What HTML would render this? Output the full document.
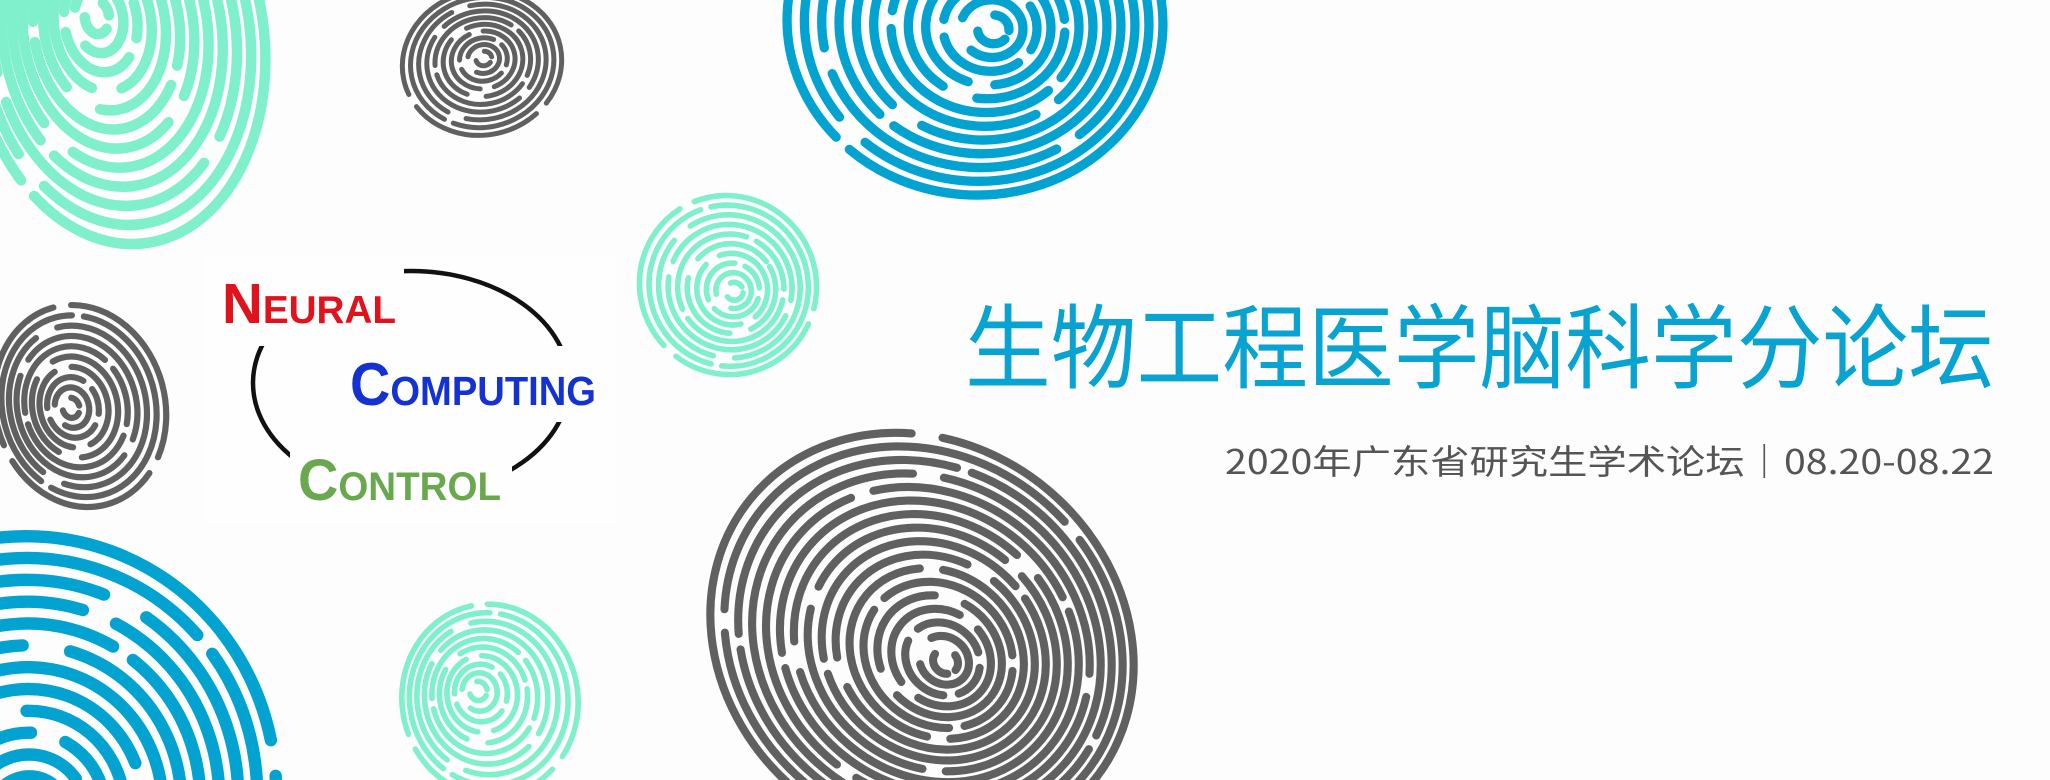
<!DOCTYPE html>
<html><head><meta charset="utf-8">
<style>
html,body{margin:0;padding:0;background:#fdfdfd;width:2050px;height:780px;overflow:hidden;}
#root{position:relative;width:2050px;height:780px;overflow:hidden;background:#fdfdfd;}
svg{position:absolute;left:0;top:0;overflow:hidden;}
</style></head>
<body>
<div id="root">
<svg id="bg" width="2050" height="780" viewBox="0 0 2050 780"></svg>
<svg width="2050" height="780" viewBox="0 0 2050 780">
  <g>
    <rect x="206" y="256" width="410" height="268" fill="#fefefe"/>
    <ellipse cx="411" cy="383" rx="158" ry="112" fill="none" stroke="#111" stroke-width="4.5"/>
    <rect x="214" y="268" width="190" height="78" fill="#fefefe"/>
    <rect x="338" y="346" width="272" height="76" fill="#fefefe"/>
    <rect x="290" y="442" width="222" height="70" fill="#fefefe"/>
    <text x="222" y="323" textLength="174" lengthAdjust="spacingAndGlyphs" font-family="Liberation Sans, sans-serif" font-weight="bold" fill="#e0121b"><tspan font-size="57">N</tspan><tspan font-size="39">EURAL</tspan></text>
    <text x="350" y="405" textLength="246" lengthAdjust="spacingAndGlyphs" font-family="Liberation Sans, sans-serif" font-weight="bold" fill="#1432d2"><tspan font-size="60">C</tspan><tspan font-size="41">OMPUTING</tspan></text>
    <text x="298" y="500" textLength="203" lengthAdjust="spacingAndGlyphs" font-family="Liberation Sans, sans-serif" font-weight="bold" fill="#6aa84f"><tspan font-size="58">C</tspan><tspan font-size="40">ONTROL</tspan></text>
  </g>
  <text x="965" y="381" font-size="92" textLength="1029" lengthAdjust="spacingAndGlyphs" font-family="Liberation Sans, Noto Sans CJK SC, sans-serif" fill="#08a3d0">生物工程医学脑科学分论坛</text>
  <text x="1225" y="474" font-size="34" textLength="769" lengthAdjust="spacingAndGlyphs" font-family="Noto Sans CJK SC, sans-serif" fill="#555555">2020年广东省研究生学术论坛｜08.20-08.22</text>
</svg>
</div>
<script>
// decorative fingerprint parameters: core x,y ; outer center x,y ; rx, ry ; rotation ; ridge period ; color
const prints = [
  {name:'teal-fingerprint-top-left', core:[95,15], c:[118,40], rx:146, ry:205, rot:-8, p:17, col:'#80efcb'},
  {name:'gray-fingerprint-top', core:[484,58], c:[482,63], rx:80, ry:72, rot:-12, p:8, col:'#606060'},
  {name:'blue-fingerprint-top', core:[995,30], c:[975,22], rx:188, ry:173, rot:4, p:15, col:'#02a3d1'},
  {name:'teal-fingerprint-middle', core:[735,292], c:[728,285], rx:88, ry:90, rot:-30, p:9, col:'#80efcb'},
  {name:'gray-fingerprint-left', core:[70,408], c:[80,406], rx:85, ry:102, rot:-15, p:10, col:'#606060'},
  {name:'blue-fingerprint-bottom-left', core:[30,820], c:[20,800], rx:255, ry:265, rot:20, p:20, col:'#02a3d1'},
  {name:'teal-fingerprint-bottom', core:[477,690], c:[490,700], rx:88, ry:96, rot:-8, p:9, col:'#80efcb'},
  {name:'gray-fingerprint-large', core:[947,663], c:[922,640], rx:222, ry:196, rot:40, p:13, col:'#606060'}
];
const NS='http://www.w3.org/2000/svg';
const bg=document.getElementById('bg');
prints.forEach(function(f){
  const g=document.createElementNS(NS,'g');
  
  
  const rmax=Math.max(f.rx,f.ry);
  const n=Math.floor(rmax/f.p);
  for(let i=1;i<=n;i++){
    const t=i/n;
    const rx=f.rx*t, ry=f.ry*t;
    const cx=f.core[0]+(f.c[0]-f.core[0])*t;
    const cy=f.core[1]+(f.c[1]-f.core[1])*t;
    const e=document.createElementNS(NS,'ellipse');
    
    
    e.setAttribute('cx',cx);e.setAttribute('cy',cy);
    e.setAttribute('rx',rx);e.setAttribute('ry',ry);
    e.setAttribute('transform','rotate('+f.rot+' '+cx+' '+cy+')');
    e.setAttribute('fill','none');
    e.setAttribute('stroke',f.col);
    e.setAttribute('stroke-width',(f.p*0.62).toFixed(1));
    e.setAttribute('stroke-linecap','round');
    const L=2*Math.PI*Math.sqrt((rx*rx+ry*ry)/2);
    const dash=L*(0.28+0.17*((i*7)%5)/4), gap=f.p*(1.2+(i%3)*0.6);
    e.setAttribute('stroke-dasharray',dash.toFixed(1)+' '+gap.toFixed(1));
    e.setAttribute('stroke-dashoffset',((i*53)%97/97*L).toFixed(1));
    g.appendChild(e);
  }
  bg.appendChild(g);
});
</script>
</body></html>
